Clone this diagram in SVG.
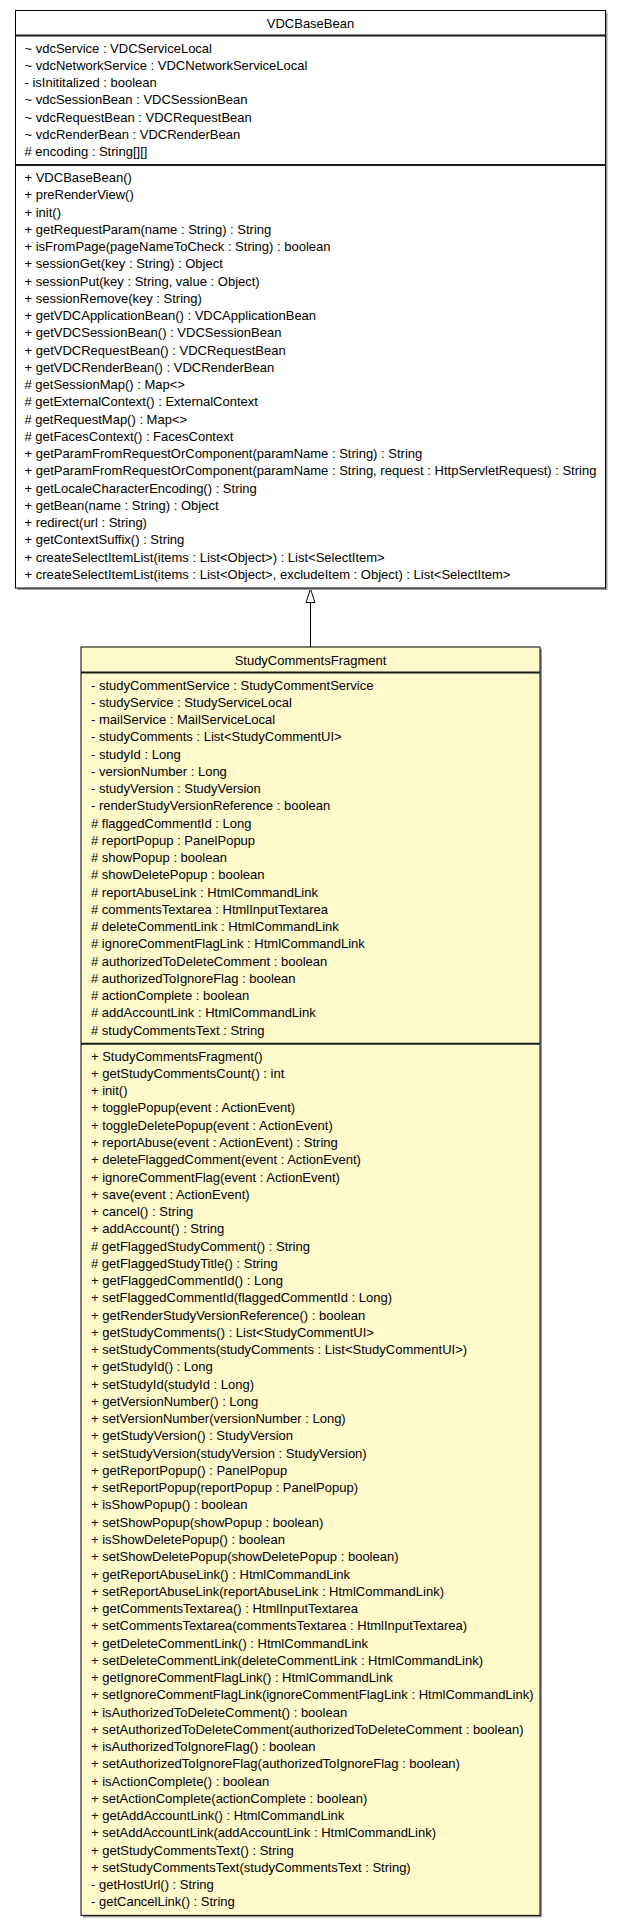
<svg xmlns="http://www.w3.org/2000/svg" width="621" height="1931" viewBox="0 0 621 1931">
<style>
text{font-family:"Liberation Sans",Arial,sans-serif;font-size:13px;fill:#000}
.title{text-anchor:middle}
.box{stroke:#000;stroke-width:1}
.shadow{fill:#9a9a9a}
.sep{stroke:#1a1a1a;stroke-width:2}
.edge{stroke:#000;stroke-width:1;fill:none}
.head{fill:#fff;stroke:#000;stroke-width:1}
</style>
<rect width="621" height="1931" fill="#fff"/>
<g id="connectors">
<path class="edge" d="M310.5,647 L310.5,603"/>
<path class="head" d="M310.5,589 L315,602.5 L306,602.5 Z"/>
</g>
<g id="VDCBaseBean">
<rect class="shadow" x="17.5" y="12.5" width="590" height="577.5"/>
<rect class="box" x="15.5" y="10.5" width="590" height="577.5" fill="#fff"/>
<line class="sep" x1="15.5" y1="35.5" x2="605.5" y2="35.5"/>
<line class="sep" x1="15.5" y1="165" x2="605.5" y2="165"/>
<text class="title" x="310.5" y="27.5">VDCBaseBean</text>
<text x="24.5" y="52.5">
<tspan x="24.5">~ vdcService : VDCServiceLocal</tspan>
<tspan x="24.5" dy="17.26">~ vdcNetworkService : VDCNetworkServiceLocal</tspan>
<tspan x="24.5" dy="17.26">- isInititalized : boolean</tspan>
<tspan x="24.5" dy="17.26">~ vdcSessionBean : VDCSessionBean</tspan>
<tspan x="24.5" dy="17.26">~ vdcRequestBean : VDCRequestBean</tspan>
<tspan x="24.5" dy="17.26">~ vdcRenderBean : VDCRenderBean</tspan>
<tspan x="24.5" dy="17.26"># encoding : String[][]</tspan>
</text>
<text x="24.5" y="182">
<tspan x="24.5">+ VDCBaseBean()</tspan>
<tspan x="24.5" dy="17.26">+ preRenderView()</tspan>
<tspan x="24.5" dy="17.26">+ init()</tspan>
<tspan x="24.5" dy="17.26">+ getRequestParam(name : String) : String</tspan>
<tspan x="24.5" dy="17.26">+ isFromPage(pageNameToCheck : String) : boolean</tspan>
<tspan x="24.5" dy="17.26">+ sessionGet(key : String) : Object</tspan>
<tspan x="24.5" dy="17.26">+ sessionPut(key : String, value : Object)</tspan>
<tspan x="24.5" dy="17.26">+ sessionRemove(key : String)</tspan>
<tspan x="24.5" dy="17.26">+ getVDCApplicationBean() : VDCApplicationBean</tspan>
<tspan x="24.5" dy="17.26">+ getVDCSessionBean() : VDCSessionBean</tspan>
<tspan x="24.5" dy="17.26">+ getVDCRequestBean() : VDCRequestBean</tspan>
<tspan x="24.5" dy="17.26">+ getVDCRenderBean() : VDCRenderBean</tspan>
<tspan x="24.5" dy="17.26"># getSessionMap() : Map&lt;&gt;</tspan>
<tspan x="24.5" dy="17.26"># getExternalContext() : ExternalContext</tspan>
<tspan x="24.5" dy="17.26"># getRequestMap() : Map&lt;&gt;</tspan>
<tspan x="24.5" dy="17.26"># getFacesContext() : FacesContext</tspan>
<tspan x="24.5" dy="17.26">+ getParamFromRequestOrComponent(paramName : String) : String</tspan>
<tspan x="24.5" dy="17.26">+ getParamFromRequestOrComponent(paramName : String, request : HttpServletRequest) : String</tspan>
<tspan x="24.5" dy="17.26">+ getLocaleCharacterEncoding() : String</tspan>
<tspan x="24.5" dy="17.26">+ getBean(name : String) : Object</tspan>
<tspan x="24.5" dy="17.26">+ redirect(url : String)</tspan>
<tspan x="24.5" dy="17.26">+ getContextSuffix() : String</tspan>
<tspan x="24.5" dy="17.26">+ createSelectItemList(items : List&lt;Object&gt;) : List&lt;SelectItem&gt;</tspan>
<tspan x="24.5" dy="17.26">+ createSelectItemList(items : List&lt;Object&gt;, excludeItem : Object) : List&lt;SelectItem&gt;</tspan>
</text>
</g>
<g id="StudyCommentsFragment">
<rect class="shadow" x="83" y="649" width="459" height="1268.4"/>
<rect class="box" x="81" y="647" width="459" height="1268.4" fill="#fff9cc"/>
<line class="sep" x1="81" y1="672.5" x2="540" y2="672.5"/>
<line class="sep" x1="81" y1="1043.7" x2="540" y2="1043.7"/>
<text class="title" x="310.5" y="664.5">StudyCommentsFragment</text>
<text x="91" y="689.5">
<tspan x="91">- studyCommentService : StudyCommentService</tspan>
<tspan x="91" dy="17.26">- studyService : StudyServiceLocal</tspan>
<tspan x="91" dy="17.26">- mailService : MailServiceLocal</tspan>
<tspan x="91" dy="17.26">- studyComments : List&lt;StudyCommentUI&gt;</tspan>
<tspan x="91" dy="17.26">- studyId : Long</tspan>
<tspan x="91" dy="17.26">- versionNumber : Long</tspan>
<tspan x="91" dy="17.26">- studyVersion : StudyVersion</tspan>
<tspan x="91" dy="17.26">- renderStudyVersionReference : boolean</tspan>
<tspan x="91" dy="17.26"># flaggedCommentId : Long</tspan>
<tspan x="91" dy="17.26"># reportPopup : PanelPopup</tspan>
<tspan x="91" dy="17.26"># showPopup : boolean</tspan>
<tspan x="91" dy="17.26"># showDeletePopup : boolean</tspan>
<tspan x="91" dy="17.26"># reportAbuseLink : HtmlCommandLink</tspan>
<tspan x="91" dy="17.26"># commentsTextarea : HtmlInputTextarea</tspan>
<tspan x="91" dy="17.26"># deleteCommentLink : HtmlCommandLink</tspan>
<tspan x="91" dy="17.26"># ignoreCommentFlagLink : HtmlCommandLink</tspan>
<tspan x="91" dy="17.26"># authorizedToDeleteComment : boolean</tspan>
<tspan x="91" dy="17.26"># authorizedToIgnoreFlag : boolean</tspan>
<tspan x="91" dy="17.26"># actionComplete : boolean</tspan>
<tspan x="91" dy="17.26"># addAccountLink : HtmlCommandLink</tspan>
<tspan x="91" dy="17.26"># studyCommentsText : String</tspan>
</text>
<text x="91" y="1060.7">
<tspan x="91">+ StudyCommentsFragment()</tspan>
<tspan x="91" dy="17.26">+ getStudyCommentsCount() : int</tspan>
<tspan x="91" dy="17.26">+ init()</tspan>
<tspan x="91" dy="17.26">+ togglePopup(event : ActionEvent)</tspan>
<tspan x="91" dy="17.26">+ toggleDeletePopup(event : ActionEvent)</tspan>
<tspan x="91" dy="17.26">+ reportAbuse(event : ActionEvent) : String</tspan>
<tspan x="91" dy="17.26">+ deleteFlaggedComment(event : ActionEvent)</tspan>
<tspan x="91" dy="17.26">+ ignoreCommentFlag(event : ActionEvent)</tspan>
<tspan x="91" dy="17.26">+ save(event : ActionEvent)</tspan>
<tspan x="91" dy="17.26">+ cancel() : String</tspan>
<tspan x="91" dy="17.26">+ addAccount() : String</tspan>
<tspan x="91" dy="17.26"># getFlaggedStudyComment() : String</tspan>
<tspan x="91" dy="17.26"># getFlaggedStudyTitle() : String</tspan>
<tspan x="91" dy="17.26">+ getFlaggedCommentId() : Long</tspan>
<tspan x="91" dy="17.26">+ setFlaggedCommentId(flaggedCommentId : Long)</tspan>
<tspan x="91" dy="17.26">+ getRenderStudyVersionReference() : boolean</tspan>
<tspan x="91" dy="17.26">+ getStudyComments() : List&lt;StudyCommentUI&gt;</tspan>
<tspan x="91" dy="17.26">+ setStudyComments(studyComments : List&lt;StudyCommentUI&gt;)</tspan>
<tspan x="91" dy="17.26">+ getStudyId() : Long</tspan>
<tspan x="91" dy="17.26">+ setStudyId(studyId : Long)</tspan>
<tspan x="91" dy="17.26">+ getVersionNumber() : Long</tspan>
<tspan x="91" dy="17.26">+ setVersionNumber(versionNumber : Long)</tspan>
<tspan x="91" dy="17.26">+ getStudyVersion() : StudyVersion</tspan>
<tspan x="91" dy="17.26">+ setStudyVersion(studyVersion : StudyVersion)</tspan>
<tspan x="91" dy="17.26">+ getReportPopup() : PanelPopup</tspan>
<tspan x="91" dy="17.26">+ setReportPopup(reportPopup : PanelPopup)</tspan>
<tspan x="91" dy="17.26">+ isShowPopup() : boolean</tspan>
<tspan x="91" dy="17.26">+ setShowPopup(showPopup : boolean)</tspan>
<tspan x="91" dy="17.26">+ isShowDeletePopup() : boolean</tspan>
<tspan x="91" dy="17.26">+ setShowDeletePopup(showDeletePopup : boolean)</tspan>
<tspan x="91" dy="17.26">+ getReportAbuseLink() : HtmlCommandLink</tspan>
<tspan x="91" dy="17.26">+ setReportAbuseLink(reportAbuseLink : HtmlCommandLink)</tspan>
<tspan x="91" dy="17.26">+ getCommentsTextarea() : HtmlInputTextarea</tspan>
<tspan x="91" dy="17.26">+ setCommentsTextarea(commentsTextarea : HtmlInputTextarea)</tspan>
<tspan x="91" dy="17.26">+ getDeleteCommentLink() : HtmlCommandLink</tspan>
<tspan x="91" dy="17.26">+ setDeleteCommentLink(deleteCommentLink : HtmlCommandLink)</tspan>
<tspan x="91" dy="17.26">+ getIgnoreCommentFlagLink() : HtmlCommandLink</tspan>
<tspan x="91" dy="17.26">+ setIgnoreCommentFlagLink(ignoreCommentFlagLink : HtmlCommandLink)</tspan>
<tspan x="91" dy="17.26">+ isAuthorizedToDeleteComment() : boolean</tspan>
<tspan x="91" dy="17.26">+ setAuthorizedToDeleteComment(authorizedToDeleteComment : boolean)</tspan>
<tspan x="91" dy="17.26">+ isAuthorizedToIgnoreFlag() : boolean</tspan>
<tspan x="91" dy="17.26">+ setAuthorizedToIgnoreFlag(authorizedToIgnoreFlag : boolean)</tspan>
<tspan x="91" dy="17.26">+ isActionComplete() : boolean</tspan>
<tspan x="91" dy="17.26">+ setActionComplete(actionComplete : boolean)</tspan>
<tspan x="91" dy="17.26">+ getAddAccountLink() : HtmlCommandLink</tspan>
<tspan x="91" dy="17.26">+ setAddAccountLink(addAccountLink : HtmlCommandLink)</tspan>
<tspan x="91" dy="17.26">+ getStudyCommentsText() : String</tspan>
<tspan x="91" dy="17.26">+ setStudyCommentsText(studyCommentsText : String)</tspan>
<tspan x="91" dy="17.26">- getHostUrl() : String</tspan>
<tspan x="91" dy="17.26">- getCancelLink() : String</tspan>
</text>
</g>
</svg>
